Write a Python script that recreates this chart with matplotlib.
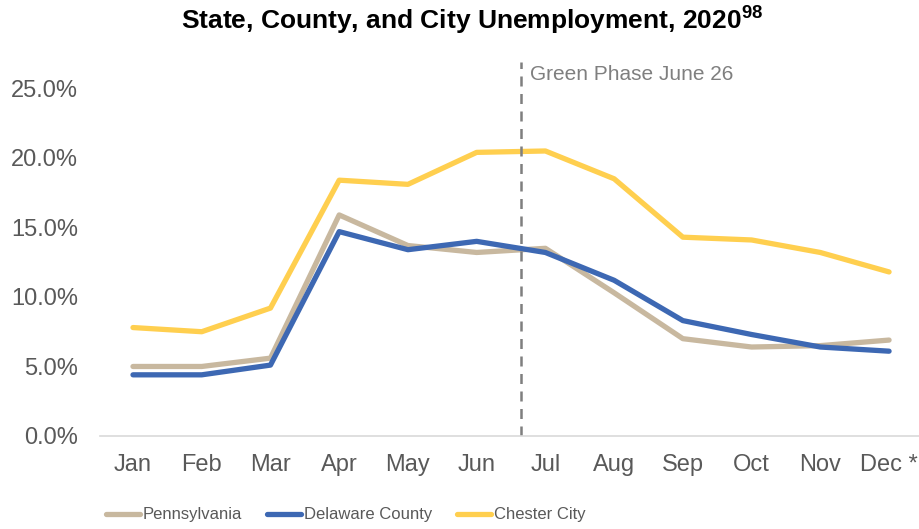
import numpy as np
import matplotlib
matplotlib.use("Agg")
import matplotlib.pyplot as plt
from matplotlib import font_manager
from matplotlib.ticker import FuncFormatter

plt.rcParams['font.family'] = ['Liberation Sans', 'DejaVu Sans']
plt.rcParams['mathtext.fontset'] = 'custom'
plt.rcParams['mathtext.bf'] = 'Liberation Sans:bold'
plt.rcParams['mathtext.rm'] = 'Liberation Sans'

# monthly unemployment rate, 2020 (percent)
months = ['Jan', 'Feb', 'Mar', 'Apr', 'May', 'Jun', 'Jul', 'Aug', 'Sep', 'Oct', 'Nov', 'Dec *']
pennsylvania = [5.0, 5.0, 5.6, 15.9, 13.7, 13.2, 13.5, 10.3, 7.0, 6.4, 6.5, 6.9]
delaware_county = [4.4, 4.4, 5.1, 14.7, 13.4, 14.0, 13.2, 11.2, 8.3, 7.3, 6.4, 6.1]
chester_city = [7.8, 7.5, 9.2, 18.4, 18.1, 20.4, 20.5, 18.5, 14.3, 14.1, 13.2, 11.8]
green_phase_pos = 5.64
green_phase_label = 'Green Phase June 26'

# narrow face for the legend if there is one
names = {f.name for f in font_manager.fontManager.ttflist}
narrow = 'Liberation Sans Narrow' in names
print('narrow font:', narrow)

fig = plt.figure(figsize=(9.2, 5.29), dpi=100)
ax = fig.add_axes([100 / 920, 1 - 436 / 529, 1 - 100 / 920, (436 - 62) / 529])

x = np.arange(len(months))
ax.plot(x, pennsylvania, color='#C8B89F', lw=3.8, label='Pennsylvania', solid_capstyle='round')
ax.plot(x, delaware_county, color='#3D68B3', lw=3.8, label='Delaware County', solid_capstyle='round')
ax.plot(x, chester_city, color='#FFCF4F', lw=3.8, label='Chester City', solid_capstyle='round')

ax.axvline(green_phase_pos, color='#7F7F7F', lw=1.8, ls=(0, (4, 3)))
ax.text(green_phase_pos + 0.14, 26.0, green_phase_label, fontsize=15, color='#7F7F7F',
        va='center', ha='left')

ax.set_xlim(-0.48, 11.45)
ax.set_ylim(0, 26.9)
ax.set_xticks(x)
ax.set_xticklabels(months)
ax.set_yticks(np.arange(0, 26, 5))
ax.yaxis.set_major_formatter(FuncFormatter(lambda v, p: f'{v:.1f}%'))
ax.tick_params(axis='both', length=0, labelsize=17, labelcolor='#595959')
ax.tick_params(axis='y', pad=16)
ax.tick_params(axis='x', pad=13)

for s in ['top', 'right', 'left']:
    ax.spines[s].set_visible(False)
ax.spines['bottom'].set_color('#D9D9D9')
ax.spines['bottom'].set_linewidth(1.2)

fig.text(0.513, 1 - 21 / 529, r'State, County, and City Unemployment, 2020$\mathbf{^{98}}$',
         ha='center', va='center', fontsize=19, fontweight='bold', color='black')

if narrow:
    leg_font = {'family': 'Liberation Sans Narrow', 'size': 14.5}
else:
    leg_font = {'family': 'Liberation Sans', 'size': 12}
leg = fig.legend(loc='center', bbox_to_anchor=(346 / 920, 1 - 515 / 529), ncol=3,
                 frameon=False, prop=leg_font, handlelength=2.0, handletextpad=0.2,
                 columnspacing=1.5, borderaxespad=0)
for t in leg.get_texts():
    t.set_color('#595959')

fig.savefig('out.png', dpi=100)
